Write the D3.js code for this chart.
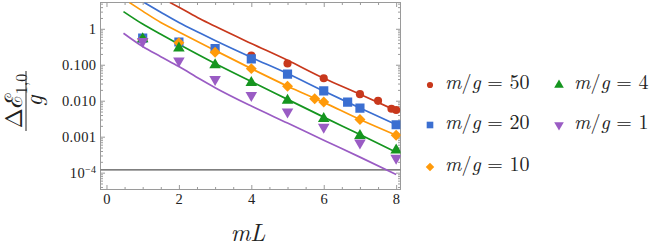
<!DOCTYPE html>
<html>
<head>
<meta charset="utf-8">
<script src="https://cdn.jsdelivr.net/npm/d3@7"></script>
</head>
<body style="margin:0;background:#fff">
<div id="chart"></div>
<script>
// points (mL, dE/g)
var redX = [4, 5, 6, 7, 7.5, 7.87, 8];
var redY = [0.18, 0.108, 0.042, 0.0152, 0.0099, 0.006, 0.0055];
var blueX = [1, 2, 3, 4, 5, 6, 6.66, 7, 8];
var blueY = [0.55, 0.43, 0.28, 0.145, 0.055, 0.0188, 0.0091, 0.0062, 0.00215];
var orangeX = [1, 2, 3, 4, 5, 5.75, 6, 7, 8];
var orangeY = [0.5, 0.41, 0.222, 0.078, 0.0254, 0.0113, 0.0092, 0.003, 0.0011];
var greenX = [1, 2, 3, 4, 5, 6, 7, 8];
var greenY = [0.56, 0.31, 0.106, 0.034, 0.0109, 0.0034, 0.00114, 0.00045];
var purpleX = [1, 2, 3, 4, 5, 6, 7, 8];
var purpleY = [0.42, 0.12, 0.037, 0.0132, 0.0046, 0.00174, 0.00063, 0.00024];

// fitted curves
var redLineX = [1.75, 2, 2.58, 3, 4, 5, 6, 7, 8];
var redLineY = [5.4, 4.0, 1.9, 1.17, 0.39, 0.133, 0.042, 0.0152, 0.0053];
var blueLineX = [1.04, 1.5, 2, 2.58, 3, 4, 5, 6, 7, 8];
var blueLineY = [5.4, 2.9, 1.5, 0.76, 0.47, 0.16, 0.057, 0.0185, 0.0063, 0.00215];
var orangeLineX = [0.63, 1, 1.5, 2, 2.58, 3, 4, 5, 6, 7, 8];
var orangeLineY = [5.4, 3.1, 1.5, 0.82, 0.41, 0.25, 0.078, 0.0254, 0.009, 0.003, 0.0011];
var greenLineX = [0.47, 1, 1.5, 2, 3, 4, 5, 6, 7, 8];
var greenLineY = [3.0, 1.35, 0.7, 0.37, 0.108, 0.034, 0.0109, 0.0035, 0.00115, 0.00037];
var purpleLineX = [0.47, 1, 1.5, 2, 2.58, 3, 4, 5, 6, 7, 8];
var purpleLineY = [0.75, 0.32, 0.168, 0.089, 0.04, 0.023, 0.0071, 0.0024, 0.0008, 0.00027, 0.000089];

var threshold = 1.2e-4;

var legendLabels = ["50", "20", "10", "4", "1"];
var colors = ["#c8381c", "#3b6fd1", "#ff9a0a", "#15951f", "#9a5cc4"];

var xTickValues = [0, 2, 4, 6, 8];
var yTickValues = [1, 0.1, 0.01, 0.001, 1e-4];
var yTickLabels = ["1", "0.100", "0.010", "0.001", "10"];

var width = 664, height = 248;
var tickFont = "'Liberation Serif', 'Times New Roman', serif";
var texFont = "'Latin Modern Roman', 'Liberation Serif', serif";

var x = d3.scaleLinear().domain([-0.165, 8.12]).range([100.5, 400.5]);
var y = d3.scaleLog().domain([5.38, 3.4e-5]).range([2.5, 189.5]);

var svg = d3.select("#chart").append("svg")
  .attr("width", width)
  .attr("height", height);

// clip for curves
svg.append("clipPath").attr("id", "clip")
  .append("rect")
  .attr("x", x.range()[0]).attr("y", y.range()[0])
  .attr("width", x.range()[1] - x.range()[0])
  .attr("height", y.range()[1] - y.range()[0]);

// axes with ticks pointing inside
function styleAxis(g) {
  g.select(".domain").remove();
  g.selectAll(".tick line").attr("stroke", "#9a9a9a");
  g.selectAll("text")
    .style("font-family", tickFont)
    .style("font-size", "14.5px")
    .style("letter-spacing", "0.4px")
    .attr("fill", "#222");
}

var xMinor = x.ticks(16).filter(function (d) { return xTickValues.indexOf(d) < 0; });
var yMinor = y.ticks().filter(function (d) {
  return yTickValues.indexOf(d) < 0 && d <= 5.38 && d >= 3.4e-5;
});

svg.append("g").attr("transform", "translate(0," + y.range()[1] + ")")
  .call(d3.axisBottom(x).tickValues(xTickValues).tickSize(-4.5).tickPadding(4).tickFormat(d3.format("d")))
  .call(styleAxis);
svg.append("g").attr("transform", "translate(0," + y.range()[1] + ")")
  .call(d3.axisBottom(x).tickValues(xMinor).tickSize(-2.5).tickFormat(""))
  .call(styleAxis);
svg.append("g").attr("transform", "translate(0," + y.range()[0] + ")")
  .call(d3.axisTop(x).tickValues(xTickValues).tickSize(-4.5).tickFormat(""))
  .call(styleAxis);
svg.append("g").attr("transform", "translate(0," + y.range()[0] + ")")
  .call(d3.axisTop(x).tickValues(xMinor).tickSize(-2.5).tickFormat(""))
  .call(styleAxis);

var yAxisL = svg.append("g").attr("transform", "translate(" + x.range()[0] + ",0)")
  .call(d3.axisLeft(y).tickValues(yTickValues).tickSize(-4.5).tickPadding(4)
    .tickFormat(function (d, i) { return yTickLabels[i]; }))
  .call(styleAxis);
svg.append("g").attr("transform", "translate(" + x.range()[0] + ",0)")
  .call(d3.axisLeft(y).tickValues(yMinor).tickSize(-2.5).tickFormat(""))
  .call(styleAxis);
svg.append("g").attr("transform", "translate(" + x.range()[1] + ",0)")
  .call(d3.axisRight(y).tickValues(yTickValues).tickSize(-4.5).tickFormat(""))
  .call(styleAxis);
svg.append("g").attr("transform", "translate(" + x.range()[1] + ",0)")
  .call(d3.axisRight(y).tickValues(yMinor).tickSize(-2.5).tickFormat(""))
  .call(styleAxis);

// superscript on 10^-4
yAxisL.selectAll(".tick text").filter(function (d) { return d === 1e-4; })
  .append("tspan").attr("dy", "-0.45em").style("font-size", "10px").text("\u22124");

// frame
svg.append("rect")
  .attr("x", x.range()[0]).attr("y", y.range()[0])
  .attr("width", x.range()[1] - x.range()[0])
  .attr("height", y.range()[1] - y.range()[0])
  .attr("fill", "none").attr("stroke", "#9a9a9a").attr("stroke-width", 1);

var plot = svg.append("g").attr("clip-path", "url(#clip)");

// horizontal reference line
plot.append("line")
  .attr("x1", x.range()[0]).attr("x2", x.range()[1])
  .attr("y1", y(threshold)).attr("y2", y(threshold))
  .attr("stroke", "#555").attr("stroke-width", 1.2);

var lineData = [
  [redLineX, redLineY], [blueLineX, blueLineY], [orangeLineX, orangeLineY],
  [greenLineX, greenLineY], [purpleLineX, purpleLineY]
];
var pointData = [
  [redX, redY], [blueX, blueY], [orangeX, orangeY], [greenX, greenY], [purpleX, purpleY]
];

var line = d3.line()
  .x(function (d) { return x(d[0]); })
  .y(function (d) { return y(d[1]); })
  .curve(d3.curveMonotoneX);

lineData.forEach(function (s, i) {
  var pts = s[0].map(function (v, j) { return [v, s[1][j]]; });
  plot.append("path").datum(pts)
    .attr("d", line)
    .attr("fill", "none")
    .attr("stroke", colors[i])
    .attr("stroke-width", 1.7);
});

// marker shapes: circle, square, diamond, triangle up, triangle down
var shapes = [
  { type: d3.symbolCircle, rot: 0, size: 52, lsize: 30 },
  { type: d3.symbolSquare, rot: 0, size: 84, lsize: 44 },
  { type: d3.symbolSquare, rot: 45, size: 60, lsize: 36 },
  { type: d3.symbolTriangle, rot: 0, size: 58, lsize: 40 },
  { type: d3.symbolTriangle, rot: 180, size: 58, lsize: 40 }
];

pointData.forEach(function (s, i) {
  var sym = d3.symbol().type(shapes[i].type).size(shapes[i].size);
  plot.append("g").selectAll("path")
    .data(s[0].map(function (v, j) { return [v, s[1][j]]; }))
    .enter().append("path")
    .attr("d", sym)
    .attr("transform", function (d) {
      var dy = shapes[i].type === d3.symbolTriangle ? (shapes[i].rot ? -1 : 1) : 0;
      return "translate(" + x(d[0]) + "," + (y(d[1]) + dy) + ") rotate(" + shapes[i].rot + ")";
    })
    .attr("fill", colors[i]);
});

// axis labels
svg.append("text")
  .attr("x", 248).attr("y", 241)
  .attr("text-anchor", "middle")
  .style("font-family", texFont)
  .style("font-size", "24px")
  .style("font-style", "italic")
  .attr("fill", "#222")
  .text("mL");

var yl = svg.append("g").attr("transform", "translate(26,101) rotate(-90)");
var num = yl.append("text").attr("x", 0).attr("y", -4)
  .attr("text-anchor", "middle")
  .style("font-family", texFont).style("font-size", "24px").attr("fill", "#222");
num.append("tspan").text("\u0394");
num.append("tspan").text("\u2130");
num.append("tspan").style("font-size", "16px").attr("dy", 5).text("1,0");
yl.append("line").attr("x1", -30).attr("x2", 30).attr("y1", 0).attr("y2", 0)
  .attr("stroke", "#222").attr("stroke-width", 1);
yl.append("text").attr("x", 0).attr("y", 16)
  .attr("text-anchor", "middle")
  .style("font-family", texFont).style("font-size", "24px").style("font-style", "italic")
  .attr("fill", "#222")
  .text("g");

// legend
var legendPos = [[430, 85], [430, 125], [430, 167], [559, 85], [559, 125]];
legendLabels.forEach(function (lab, i) {
  var p = legendPos[i];
  var sym = d3.symbol().type(shapes[i].type).size(shapes[i].lsize);
  svg.append("path")
    .attr("d", sym)
    .attr("transform", "translate(" + p[0] + "," + p[1] + ") rotate(" + shapes[i].rot + ")")
    .attr("fill", colors[i]);
  var t = svg.append("text").attr("x", p[0] + 15).attr("y", p[1] + 4)
    .style("font-family", texFont).style("font-size", "20px").attr("fill", "#222");
  t.append("tspan").style("font-style", "italic").text("m");
  t.append("tspan").text("/");
  t.append("tspan").style("font-style", "italic").text("g");
  t.append("tspan").text(" = " + lab);
});
</script>
</body>
</html>
